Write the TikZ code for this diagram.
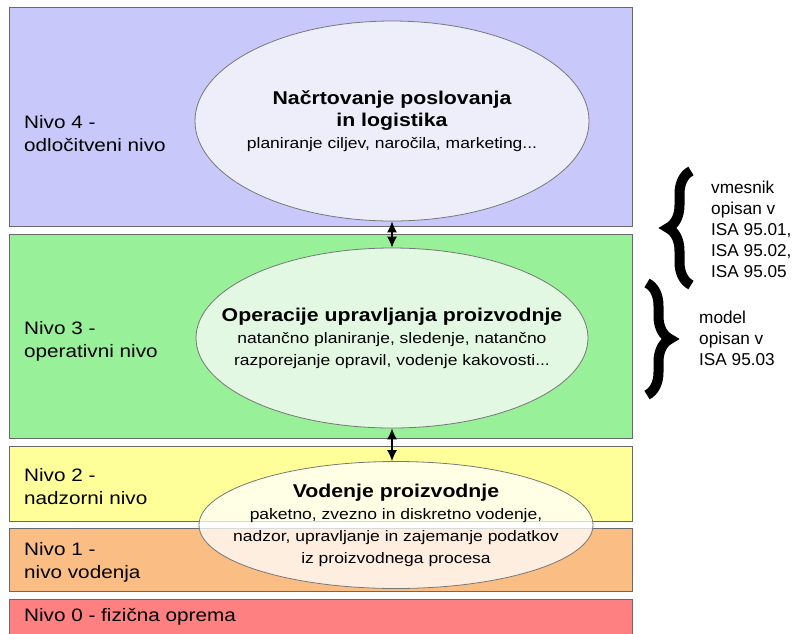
\documentclass[tikz,border=0pt]{standalone}
\usepackage{fontspec}
\setmainfont{Liberation Sans}[FakeStretch=1.15]
\newfontfamily\sidefont{Liberation Sans}
\usetikzlibrary{shapes.geometric,arrows.meta,decorations.pathreplacing}

\definecolor{bandgray}{RGB}{105,105,105}
\definecolor{ovalgray}{RGB}{120,120,120}
\definecolor{planband}{RGB}{200,200,250}
\definecolor{planoval}{RGB}{238,238,250}
\definecolor{opsband}{RGB}{152,240,152}
\definecolor{opsoval}{RGB}{226,248,226}
\definecolor{superband}{RGB}{255,255,153}
\definecolor{ctrlband}{RGB}{250,190,132}
\definecolor{fieldband}{RGB}{255,128,128}

\newcommand{\proctitle}[1]{{\fontsize{18.5}{22}\selectfont\bfseries #1}}

\begin{document}
\begin{tikzpicture}[x=1pt, y=-1pt,
    band/.style={draw=bandgray, line width=1pt},
    oval/.style={ellipse, draw=ovalgray, line width=0.8pt, inner sep=0pt},
    proc/.style={align=center, inner sep=0pt, font=\fontsize{15.2}{22}\selectfont},
    nivo/.style={anchor=west, align=left, inner sep=0pt, font=\fontsize{18}{23}\selectfont},
    link/.style={{Latex[length=11pt,width=10pt]}-{Latex[length=11pt,width=10pt]}, line width=1.3pt},
    curly/.style={decorate, decoration={brace, amplitude=23pt, aspect=0.5}, line width=10pt},
    isa/.style={anchor=west, align=left, inner sep=0pt, font=\sidefont\fontsize{17.2}{21}\selectfont}]
  \useasboundingbox (0,0) rectangle (793,633);

  \path[band, fill=planband]  (9,7)   rectangle (632,226);
  \path[band, fill=opsband]   (9,234) rectangle (632,438);
  \path[band, fill=superband] (9,446) rectangle (632,521);
  \path[band, fill=ctrlband]  (9,528) rectangle (632,591);
  \path[band, fill=fieldband] (9,599) rectangle (632,650);

  \node[nivo] (n4) at (24,134) {Nivo 4 -\\odločitveni nivo};
  \node[nivo] (n3) at (24,341) {Nivo 3 -\\operativni nivo};
  \node[nivo] (n2) at (24,487) {Nivo 2 -\\nadzorni nivo};
  \node[nivo] (n1) at (24,562) {Nivo 1 -\\nivo vodenja};
  \node[nivo] (n0) at (24,617) {Nivo 0 - fizična oprema};

  \node[oval, fill=planoval, minimum width=394pt, minimum height=200pt] (plan) at (392,121) {};
  \node[oval, fill=opsoval, minimum width=392pt, minimum height=180pt] (ops) at (392,338) {};
  \node[oval, fill=white, fill opacity=0.75, minimum width=394pt, minimum height=127pt] (ctrl) at (396,525) {};

  \node[proc] (plantext) at (plan.center)
    {\proctitle{Načrtovanje poslovanja}\\ \proctitle{in logistika}\\
     planiranje ciljev, naročila, marketing...};
  \node[proc] (opstext) at (ops.center)
    {\proctitle{Operacije upravljanja proizvodnje}\\
     natančno planiranje, sledenje, natančno\\
     razporejanje opravil, vodenje kakovosti...};
  \node[proc] (ctrltext) at (ctrl.center)
    {\proctitle{Vodenje proizvodnje}\\
     paketno, zvezno in diskretno vodenje,\\
     nadzor, upravljanje in zajemanje podatkov\\
     iz proizvodnega procesa};

  \draw[link] (plan.south) -- (ops.north);
  \draw[link] (ops.south) -- (ops.south |- ctrl.north);

  \coordinate (b1s) at (691,285);
  \coordinate (b1e) at (691,171);
  \coordinate (b2s) at (647,283);
  \coordinate (b2e) at (647,395);
  \draw[curly] (b1s) -- (b1e);
  \draw[curly] (b2s) -- (b2e);

  \node[isa] (vmesnik) at (711,229) {vmesnik\\opisan v\\ISA 95.01,\\ISA 95.02,\\ISA 95.05};
  \node[isa] (model) at (699,338) {model\\opisan v\\ISA 95.03};
\end{tikzpicture}
\end{document}
